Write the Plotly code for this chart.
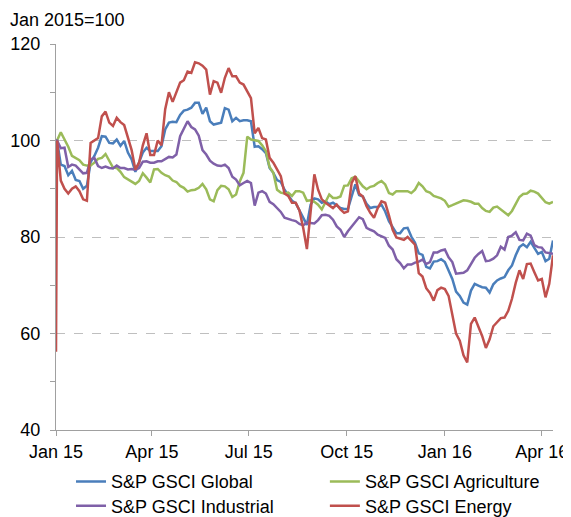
import pandas as pd
import plotly.graph_objects as go

# Observation dates: the Jan 1 print, then twice-weekly points (every 3.5 days)
start_date = "2015-01-01"
obs_dates = [start_date] + [d.strftime("%Y-%m-%d %H:%M") for d in pd.date_range("2015-01-02", periods=134, freq="84h")]

# Index levels (Jan 2015 = 100). "weekly" = points on each week, "midweek" = points half a week later
start_values = {"global": 100, "agri": 100, "industrial": 100, "energy": 56.2}

global_weekly = [100, 94.7, 93.7, 91.6, 90.6, 96.8, 100.9, 99.5, 100.2, 99.9,
                 96.1, 95.4, 98.5, 97.8, 98.8, 103.7, 103.8, 106.2, 106.8, 107.8,
                 106.8, 103.3, 103.7, 106.4, 104.7, 104.2, 104.0, 98.8, 97.4, 93.3,
                 91.4, 88.5, 87.0, 84.3, 86.7, 87.8, 87.4, 87.1, 86.0, 85.8,
                 90.9, 88.4, 86.0, 86.2, 85.3, 81.9, 80.8, 81.9, 78.8, 76.3,
                 73.5, 75.0, 74.8, 71.3, 67.8, 66.0, 70.3, 69.6, 68.5, 71.0,
                 71.7, 74.1, 77.9, 77.9, 77.6, 76.9, 75.5]
global_midweek = [95.0, 92.8, 91.8, 90.0, 95.5, 98.5, 100.8, 99.4, 98.9, 97.5,
                  93.5, 97.5, 97.8, 97.8, 102.3, 103.9, 105.3, 106.4, 107.8, 105.5,
                  104.0, 103.5, 106.7, 104.0, 104.0, 104.2, 98.7, 98.2, 94.3, 91.8,
                  89.8, 87.5, 85.5, 82.5, 88.0, 87.1, 86.8, 86.5, 85.8, 88.4,
                  88.7, 86.9, 86.2, 86.7, 83.3, 80.8, 81.8, 80.1, 76.6, 73.8,
                  74.9, 75.4, 73.2, 68.7, 66.4, 68.9, 69.9, 69.5, 70.2, 71.4,
                  73.1, 76.2, 78.5, 79.0, 76.5, 75.0, 79.3]

agri_weekly = [100, 100.3, 96.8, 95.9, 94.8, 95.4, 96.4, 95.7, 94.3, 92.4,
               91.4, 91.6, 92.3, 94.0, 93.3, 92.5, 91.4, 90.2, 89.7, 90.2,
               89.9, 87.4, 90.6, 89.9, 88.8, 93.3, 100.2, 99.9, 97.8, 93.3,
               89.2, 89.2, 89.5, 89.2, 87.6, 86.7, 87.1, 88.1, 88.4, 90.7,
               92.5, 90.5, 90.4, 91.2, 90.9, 88.8, 89.5, 89.5, 89.8, 90.5,
               89.2, 88.3, 87.5, 86.6, 87.3, 87.5, 86.9, 86.0, 85.2, 86.3,
               85.2, 85.4, 88.3, 89.0, 89.4, 88.0, 86.9]
agri_midweek = [101.7, 98.7, 96.3, 95.0, 94.8, 96.2, 97.2, 94.4, 93.5, 91.9,
                91.0, 93.2, 91.3, 94.1, 92.8, 91.7, 90.6, 89.4, 89.8, 91.0,
                87.8, 89.7, 90.5, 88.3, 91.5, 100.8, 100.0, 99.0, 94.5, 89.8,
                89.0, 88.5, 89.5, 87.5, 87.3, 85.7, 88.8, 88.1, 90.6, 92.2,
                91.5, 89.9, 90.6, 91.6, 89.1, 89.5, 89.6, 89.1, 91.2, 89.5,
                88.5, 88.0, 86.3, 86.9, 87.6, 87.3, 86.9, 85.4, 86.1, 85.7,
                84.5, 87.0, 88.9, 89.6, 89.0, 87.2, 87.3]

industrial_weekly = [100, 98.5, 95.0, 94.0, 93.3, 96.4, 94.3, 94.3, 94.8, 94.3,
                     94.1, 94.3, 95.7, 95.4, 95.7, 96.6, 97.1, 102.3, 102.8, 101.0,
                     97.1, 95.2, 94.7, 94.3, 91.9, 91.2, 91.2, 89.2, 89.0, 86.8,
                     85.2, 83.7, 83.3, 82.4, 82.9, 83.5, 84.6, 83.6, 81.5, 81.2,
                     83.3, 83.7, 81.5, 80.5, 79.8, 77.4, 74.6, 74.3, 74.7, 75.3,
                     74.8, 76.8, 77.4, 74.8, 72.5, 73.1, 75.7, 77.1, 75.1, 76.2,
                     77.4, 80.3, 79.4, 80.7, 78.3, 77.8, 76.7]
industrial_midweek = [98.4, 94.5, 94.8, 93.2, 96.1, 94.7, 94.6, 94.2, 94.3, 94.0,
                      93.9, 95.6, 95.4, 95.7, 96.1, 96.5, 100.9, 104.0, 102.3, 98.0,
                      95.8, 94.8, 95.0, 92.5, 90.7, 91.6, 86.5, 89.5, 87.3, 86.0,
                      84.0, 83.5, 82.7, 83.0, 82.8, 84.5, 84.4, 82.2, 80.0, 82.2,
                      84.1, 81.9, 81.2, 80.1, 78.2, 75.4, 73.5, 74.3, 74.9, 74.4,
                      76.8, 77.2, 75.8, 72.4, 72.6, 74.5, 76.5, 75.0, 75.5, 78.0,
                      80.0, 81.0, 79.3, 80.3, 77.9, 76.8, 76.5]

energy_weekly = [100, 90.0, 90.0, 89.5, 87.5, 100.0, 105.0, 103.7, 104.7, 103.2,
                 98.0, 95.4, 101.5, 97.0, 99.0, 110.0, 110.0, 112.5, 114.0, 116.0,
                 114.7, 112.3, 109.9, 115.0, 113.3, 111.6, 108.8, 102.6, 100.2, 95.4,
                 92.6, 88.5, 87.1, 81.9, 85.0, 89.8, 87.1, 86.0, 85.7, 85.3,
                 92.6, 88.4, 85.0, 86.0, 87.1, 81.5, 79.6, 80.0, 78.4, 71.8,
                 68.4, 69.0, 69.2, 64.0, 58.5, 54.0, 63.3, 59.5, 58.8, 62.3,
                 63.3, 67.2, 73.1, 74.4, 72.7, 71.3, 70.3]
energy_midweek = [91.7, 89.0, 90.5, 87.8, 99.5, 100.5, 106.0, 103.0, 103.8, 100.5,
                  94.0, 99.0, 97.0, 100.0, 106.5, 108.0, 112.0, 114.3, 116.2, 115.5,
                  109.5, 112.0, 113.0, 113.3, 112.0, 110.3, 101.5, 100.5, 96.4, 94.0,
                  89.0, 87.1, 85.5, 77.5, 93.0, 87.8, 86.5, 86.7, 85.0, 91.2,
                  89.0, 86.4, 84.0, 87.4, 84.5, 79.9, 79.4, 79.3, 72.5, 69.4,
                  66.8, 69.5, 67.8, 60.0, 55.5, 62.0, 61.3, 57.0, 61.5, 63.2,
                  64.7, 70.5, 71.3, 74.5, 71.0, 67.5, 76.2]


def merge(first, weekly, midweek):
    out = [first]
    for w, m in zip(weekly, midweek):
        out += [w, m]
    return out


series_names = ["S&P GSCI Global", "S&P GSCI Agriculture", "S&P GSCI Industrial", "S&P GSCI Energy"]
series_values = [merge(start_values["global"], global_weekly, global_midweek),
                 merge(start_values["agri"], agri_weekly, agri_midweek),
                 merge(start_values["industrial"], industrial_weekly, industrial_midweek),
                 merge(start_values["energy"], energy_weekly, energy_midweek)]
series_colors = ["#4A7EBB", "#9BBB59", "#7F60A8", "#C0504D"]

tick_vals = ["2015-01-01", "2015-04-01", "2015-07-01", "2015-10-01", "2016-01-01", "2016-04-01"]
tick_text = ["Jan 15", "Apr 15", "Jul 15", "Oct 15", "Jan 16", "Apr 16"]

FONT = "Liberation Sans, Arial, sans-serif"
FS = 18
legend_ids = ["legend", "legend2", "legend3", "legend4"]

fig = go.Figure()
for name, vals, col, lg in zip(series_names, series_values, series_colors, legend_ids):
    fig.add_trace(go.Scatter(x=obs_dates, y=vals, mode="lines", name=name, legend=lg,
                             line=dict(color=col, width=2.5)))

axis_grey = "#A0A0A0"
lay = dict(
    width=563, height=509,
    margin=dict(l=48, r=18, t=36, b=87, autoexpand=False),
    paper_bgcolor="white", plot_bgcolor="white",
    font=dict(family=FONT, size=FS, color="black"),
    xaxis=dict(type="date", range=["2015-01-01", "2016-04-11 12:00"],
               tickvals=tick_vals, ticktext=tick_text,
               showgrid=False, zeroline=False,
               showline=True, linecolor=axis_grey, linewidth=1,
               ticks="outside", ticklen=5, tickcolor=axis_grey,
               tickfont=dict(family=FONT, size=FS, color="black"),
               ticklabelstandoff=0,
               layer="below traces"),
    yaxis=dict(range=[40, 120], tick0=40, dtick=20,
               showgrid=True, gridcolor="#BFBFBF", griddash="dash", gridwidth=1,
               zeroline=False, showline=True, linecolor=axis_grey, linewidth=1,
               ticks="outside", ticklen=5, tickcolor=axis_grey,
               minor=dict(dtick=10, ticks="outside", ticklen=5, tickcolor=axis_grey, showgrid=False),
               tickfont=dict(family=FONT, size=FS, color="black"),
               ticklabelstandoff=6,
               layer="below traces"),
    showlegend=True,
)

leg_pos = [(0.0302, -0.134), (0.541, -0.134), (0.0302, -0.197), (0.541, -0.197)]
for lg, (lx, ly) in zip(legend_ids, leg_pos):
    lay[lg] = dict(x=lx, y=ly, xanchor="left", yanchor="middle", orientation="h",
                   bgcolor="rgba(0,0,0,0)", font=dict(family=FONT, size=FS, color="black"))

fig.update_layout(**lay)

fig.add_annotation(text="Jan 2015=100", xref="paper", yref="paper", x=-0.0966, y=1.0622,
                   xanchor="left", yanchor="middle", showarrow=False,
                   font=dict(family=FONT, size=FS, color="black"))

fig.write_html("out.html")
